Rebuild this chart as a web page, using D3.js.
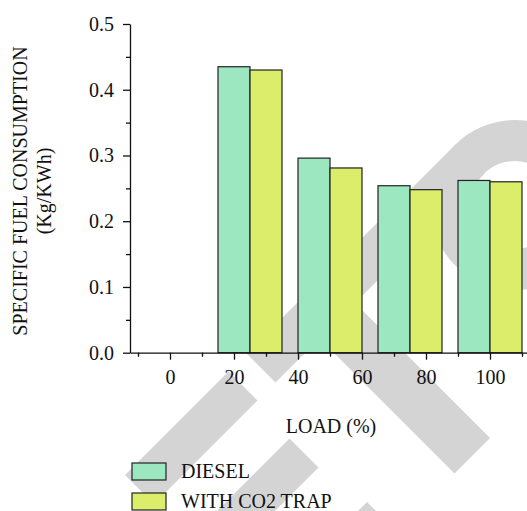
<!DOCTYPE html>
<html>
<head>
<meta charset="utf-8">
<script src="https://cdn.jsdelivr.net/npm/d3@7"></script>
<style>
    body { margin: 0; background: #fff; }
    svg { display: block; }
    text { font-family: "Liberation Serif", "Times New Roman", serif; fill: #111; }
    .axis path, .axis line { stroke: #111; stroke-width: 1.3; }
    .axis text { font-size: 20px; font-family: "Liberation Serif", serif; fill: #111; }
</style>
</head>
<body>
<div id="chart"></div>
<script>
// chart values
var loads = [25, 50, 75, 100];
var diesel = [0.435, 0.296, 0.254, 0.262];
var co2Trap = [0.430, 0.281, 0.248, 0.260];
var seriesNames = ["DIESEL", "WITH CO2 TRAP"];
var seriesColors = ["#9ce6c0", "#dcec6b"];
var xTicks = [0, 20, 40, 60, 80, 100];
var xMinorTicks = [-10, 10, 30, 50, 70, 90, 110];
var yTicks = [0, 0.1, 0.2, 0.3, 0.4, 0.5];
var yMinorTicks = [0.05, 0.15, 0.25, 0.35, 0.45];

var width = 527, height = 511;
var barWidth = 10; // in load units

var svg = d3.select("#chart").append("svg")
    .attr("width", width)
    .attr("height", height);

var x = d3.scaleLinear().domain([-12.5, 112.5]).range([130, 530]);
var y = d3.scaleLinear().domain([0, 0.5]).range([352.7, 24]);

// background watermark, bands given in (x+y, x-y) coordinates
var mark = svg.append("g").attr("fill", "#d4d4d4");
var bands = [
    [600, 658, -107, 310],
    [640, 928, -19, 52],
    [600, 658, -350, -143],
    [728, 786, -600, -149],
    [869, 926, -600, -135]
];
function pt(u, v) { return [(u + v) / 2, (u - v) / 2]; }
bands.forEach(function (b) {
    var p = [pt(b[0], b[2]), pt(b[1], b[2]), pt(b[1], b[3]), pt(b[0], b[3])];
    mark.append("polygon").attr("points", p.map(function (d) { return d.join(","); }).join(" "));
});
var ring = d3.path();
ring.arc(515, 205, 85, 0, 2 * Math.PI);
ring.moveTo(515 + 44, 205);
ring.arc(515, 205, 44, 0, 2 * Math.PI);
mark.append("path").attr("d", ring.toString()).attr("fill-rule", "evenodd");

// bars
var rows = loads.map(function (l, i) {
    return { load: l, values: [diesel[i], co2Trap[i]] };
});
var groups = svg.append("g").selectAll("g")
    .data(rows)
    .enter().append("g");

groups.selectAll("rect")
    .data(function (d) {
        return d.values.map(function (v, k) { return { load: d.load, value: v, k: k }; });
    })
    .enter().append("rect")
    .attr("x", function (d) { return x(d.load - barWidth + d.k * barWidth); })
    .attr("width", function (d) { return x(barWidth) - x(0); })
    .attr("y", function (d) { return y(d.value); })
    .attr("height", function (d) { return y(0) - y(d.value); })
    .attr("fill", function (d) { return seriesColors[d.k]; })
    .attr("stroke", "#222")
    .attr("stroke-width", 1.2);

// axes
var xAxis = svg.append("g").attr("class", "axis")
    .attr("transform", "translate(0," + y(0) + ")")
    .call(d3.axisBottom(x).tickValues(xTicks).tickSize(7).tickSizeOuter(0).tickPadding(10).tickFormat(d3.format("d")));
svg.append("g").attr("class", "axis")
    .attr("transform", "translate(0," + y(0) + ")")
    .call(d3.axisBottom(x).tickValues(xMinorTicks).tickSize(4).tickSizeOuter(0).tickFormat(""))
    .select(".domain").remove();

svg.append("g").attr("class", "axis")
    .attr("transform", "translate(" + x(-12.5) + ",0)")
    .call(d3.axisLeft(y).tickValues(yTicks).tickSize(7).tickSizeOuter(0).tickPadding(9).tickFormat(d3.format(".1f")));
svg.append("g").attr("class", "axis")
    .attr("transform", "translate(" + x(-12.5) + ",0)")
    .call(d3.axisLeft(y).tickValues(yMinorTicks).tickSize(4).tickSizeOuter(0).tickFormat(""))
    .select(".domain").remove();

// axis titles
svg.append("text")
    .attr("x", 331).attr("y", 433)
    .attr("text-anchor", "middle")
    .style("font-size", "20px")
    .text("LOAD (%)");

var yTitle = svg.append("text")
    .attr("transform", "translate(27,191) rotate(-90)")
    .attr("text-anchor", "middle")
    .style("font-size", "20px");
yTitle.append("tspan").attr("x", 0).attr("y", 0).text("SPECIFIC FUEL CONSUMPTION");
yTitle.append("tspan").attr("x", 0).attr("y", 24).text("(Kg/KWh)");

// legend
var legend = svg.append("g").selectAll("g")
    .data(seriesNames)
    .enter().append("g")
    .attr("transform", function (d, i) { return "translate(132," + (463 + i * 30) + ")"; });
legend.append("rect")
    .attr("width", 34).attr("height", 17)
    .attr("fill", function (d, i) { return seriesColors[i]; })
    .attr("stroke", "#222").attr("stroke-width", 1.2);
legend.append("text")
    .attr("x", 49).attr("y", 14.5)
    .style("font-size", "20px")
    .text(function (d) { return d; });
</script>
</body>
</html>
